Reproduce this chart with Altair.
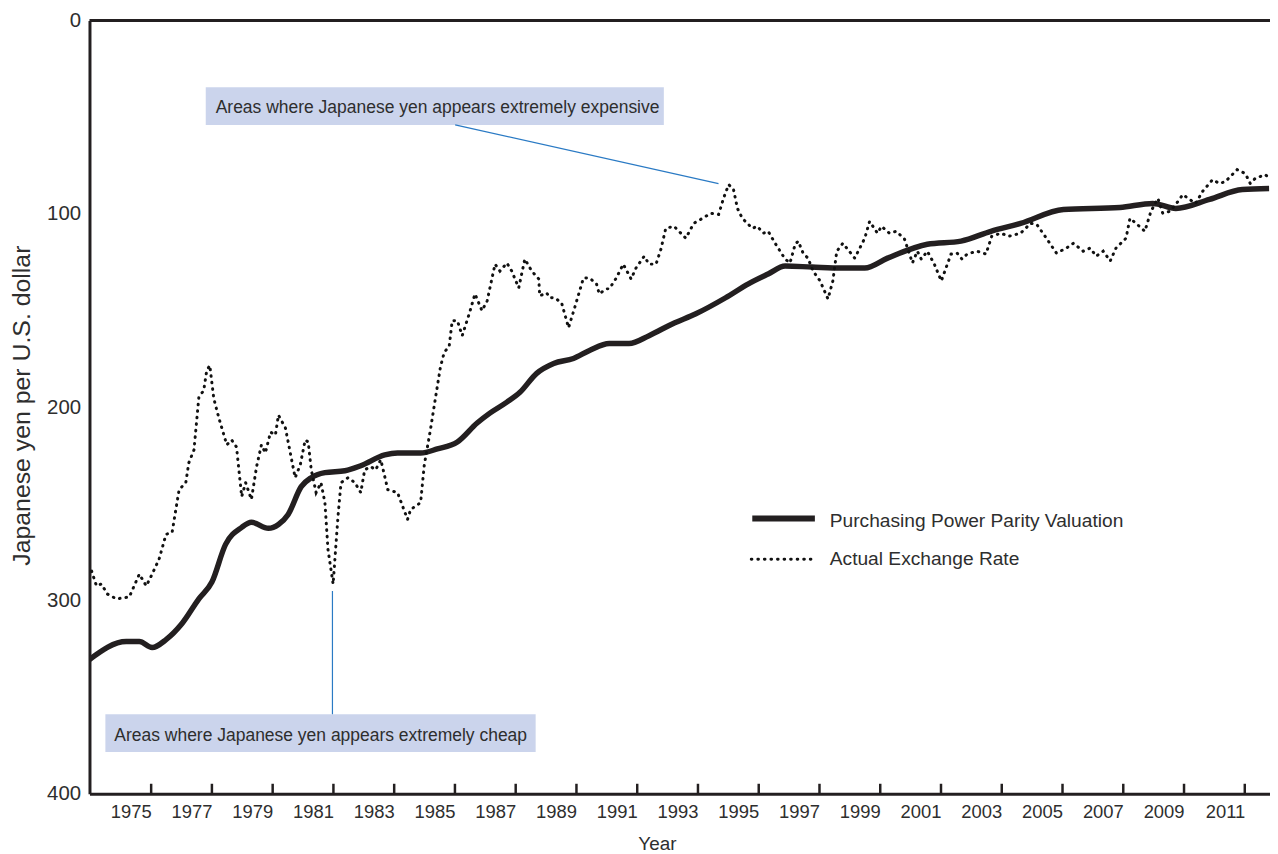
import altair as alt
import pandas as pd

FONT = "Liberation Sans, Arial, Helvetica, sans-serif"
INK = "#231f20"
TXT = "#2e2e2e"
BOX = "#cbd4ec"
LEAD = "#2a7ac4"

# ---------------- data ----------------
ppp_year = [1972.97, 1974.18, 1974.61, 1975.03, 1975.49, 1976.01, 1976.57, 1977.00, 1977.45,
            1977.98, 1978.30, 1978.86, 1979.19, 1979.51, 1979.94, 1980.27, 1980.72, 1981.38,
            1981.90, 1982.69, 1983.11, 1983.87, 1984.42, 1985.08, 1985.73, 1986.15, 1986.71,
            1987.14, 1987.69, 1988.25, 1988.90, 1989.43, 1990.08, 1990.73, 1991.39, 1992.17,
            1992.93, 1993.91, 1994.66, 1995.31, 1995.87, 1996.75, 1997.73, 1998.49, 1999.24,
            2000.55, 2001.66, 2002.64, 2003.62, 2005.03, 2006.89, 2007.97, 2008.73, 2009.84,
            2010.92, 2011.80]
ppp_value = [330.6, 321.3, 321.3, 324.4, 320.3, 312.1, 299.2, 290.5, 271.0,
             262.2, 259.6, 262.7, 260.7, 255.5, 241.1, 236.5, 233.9, 232.9,
             230.3, 224.7, 223.7, 223.7, 221.6, 218.0, 208.2, 203.1, 197.4,
             192.3, 182.5, 177.4, 174.8, 170.7, 167.1, 167.1, 163.0, 156.8,
             151.7, 143.4, 136.2, 131.1, 127.0, 127.5, 128.0, 128.0, 122.9,
             115.7, 114.1, 109.0, 104.9, 97.7, 96.7, 94.6, 97.2, 92.5,
             87.4, 86.9]

act_year = [1973.04, 1973.20, 1973.36, 1973.56, 1973.86, 1974.28, 1974.61, 1974.84, 1975.00,
            1975.26, 1975.49, 1975.69, 1975.92, 1976.14, 1976.24, 1976.41, 1976.57, 1976.73,
            1976.83, 1976.93, 1977.06, 1977.22, 1977.49, 1977.65, 1977.81, 1977.98, 1978.11,
            1978.30, 1978.47, 1978.63, 1978.76, 1978.93, 1979.09, 1979.19, 1979.42, 1979.74,
            1979.91, 1980.07, 1980.17, 1980.27, 1980.43, 1980.59, 1980.72, 1980.82, 1980.99,
            1981.15, 1981.25, 1981.48, 1981.71, 1981.90, 1982.03, 1982.23, 1982.39, 1982.56,
            1982.79, 1983.11, 1983.44, 1983.54, 1983.87, 1983.99, 1984.19, 1984.52, 1984.65,
            1984.81, 1984.91, 1985.08, 1985.24, 1985.47, 1985.66, 1985.89, 1986.06, 1986.32,
            1986.48, 1986.71, 1986.87, 1987.10, 1987.30, 1987.53, 1987.76, 1987.79, 1988.02,
            1988.12, 1988.28, 1988.51, 1988.74, 1988.94, 1989.23, 1989.43, 1989.66, 1989.75,
            1989.98, 1990.08, 1990.31, 1990.54, 1990.80, 1990.96, 1991.23, 1991.39, 1991.62,
            1991.78, 1991.94, 1992.21, 1992.60, 1992.86, 1993.15, 1993.42, 1993.68, 1993.84,
            1994.01, 1994.17, 1994.30, 1994.46, 1994.79, 1994.95, 1995.15, 1995.31, 1995.54,
            1995.87, 1996.03, 1996.20, 1996.30, 1996.46, 1996.62, 1996.79, 1997.02, 1997.28,
            1997.44, 1997.57, 1997.77, 1998.16, 1998.49, 1998.65, 1998.91, 1999.04, 1999.30,
            1999.53, 1999.80, 2000.06, 2000.22, 2000.35, 2000.55, 2000.78, 2001.01, 2001.33,
            2001.53, 2001.69, 2001.86, 2002.18, 2002.48, 2002.67, 2002.97, 2003.23, 2003.62,
            2003.95, 2004.15, 2004.47, 2004.80, 2005.13, 2005.36, 2005.68, 2005.91, 2006.11,
            2006.34, 2006.57, 2006.76, 2007.09, 2007.22, 2007.42, 2007.71, 2007.91, 2008.14,
            2008.30, 2008.53, 2008.73, 2008.96, 2009.18, 2009.38, 2009.61, 2009.94, 2010.17,
            2010.36, 2010.75, 2011.02, 2011.18, 2011.34, 2011.67, 2011.83]
act_value = [284.8, 292.5, 291.5, 296.7, 299.2, 298.2, 286.4, 292.5, 287.4,
             278.7, 265.8, 264.8, 242.7, 239.1, 228.8, 222.1, 194.9, 191.3,
             181.0, 178.4, 195.4, 205.1, 219.5, 217.0, 220.6, 246.3, 239.1,
             247.8, 230.8, 219.5, 223.7, 212.9, 214.4, 204.1, 210.8, 236.5,
             229.8, 217.0, 218.0, 232.4, 244.2, 239.1, 249.4, 273.5, 291.5,
             256.6, 239.1, 236.5, 239.1, 244.2, 232.4, 230.8, 232.4, 227.2,
             242.7, 244.2, 258.1, 253.0, 249.4, 230.0, 212.0, 179.4, 171.5,
             168.6, 155.3, 155.3, 163.0, 151.7, 141.4, 150.1, 145.0, 126.0,
             129.6, 125.4, 129.6, 138.3, 123.4, 129.6, 133.7, 142.4, 140.9,
             143.4, 143.4, 146.0, 158.9, 148.6, 133.2, 133.2, 136.2, 141.4,
             138.8, 138.8, 133.2, 126.0, 133.7, 128.0, 121.9, 126.0, 126.0,
             118.3, 107.5, 106.4, 112.6, 104.9, 102.3, 99.7, 100.3, 92.0,
             84.8, 87.4, 97.2, 102.3, 107.5, 106.4, 110.0, 109.0, 115.2,
             123.4, 125.4, 115.7, 114.1, 120.3, 122.9, 129.6, 134.7, 144.0,
             134.7, 119.3, 115.2, 122.9, 112.6, 103.9, 110.0, 106.4, 110.0,
             109.0, 113.1, 125.4, 119.3, 123.4, 119.3, 126.0, 134.7, 120.8,
             120.3, 123.4, 120.8, 119.3, 120.8, 111.6, 110.0, 111.6, 110.0,
             104.9, 105.4, 112.6, 120.3, 117.7, 115.2, 119.3, 117.7, 121.9,
             119.3, 124.4, 117.7, 112.6, 102.3, 104.9, 109.0, 98.7, 92.0,
             99.7, 98.7, 95.1, 90.0, 92.5, 94.6, 88.4, 82.3, 84.3,
             83.3, 77.1, 79.2, 84.3, 81.7, 79.7, 81.7]

tick_years = list(range(1975, 2012, 2))
y_ticks = [0, 100, 200, 300, 400]

series_names = ["Purchasing Power Parity Valuation", "Actual Exchange Rate"]
note_expensive = "Areas where Japanese yen appears extremely expensive"
note_cheap = "Areas where Japanese yen appears extremely cheap"

# ---------------- chart ----------------
W, H = 1188, 778
X_DOMAIN = [1972.97, 2011.83]

xscale = alt.Scale(domain=X_DOMAIN, nice=False, zero=False)
yscale = alt.Scale(domain=[0, 400], reverse=True, nice=False, zero=False)

ppp_df = pd.DataFrame({"year": ppp_year, "value": ppp_value})
act_df = pd.DataFrame({"year": act_year, "value": act_value})
tick_df = pd.DataFrame({"year": tick_years})
one = pd.DataFrame({"k": [0]})

x_axis = alt.Axis(values=tick_years, format="d", ticks=False, grid=False,
                  domainColor=INK, domainWidth=3,
                  labelAlign="right", labelBaseline="alphabetic", labelPadding=24,
                  labelFont=FONT, labelFontSize=18.5, labelColor=TXT, labelFlush=False,
                  labelOverlap=False,
                  title="Year", titleFont=FONT, titleFontSize=19, titleFontWeight="normal",
                  titleColor=TXT, titleX=571, titleY=56, titleBaseline="alphabetic",
                  titleAlign="center")
y_axis = alt.Axis(values=y_ticks, ticks=False, grid=False,
                  domainColor=INK, domainWidth=3,
                  labelPadding=9, labelFont=FONT, labelFontSize=20.5, labelColor=TXT,
                  labelFlush=False, labelOverlap=False,
                  title="Japanese yen per U.S. dollar", titleFont=FONT,
                  titleFontSize=25, titleFontWeight="normal", titleColor=TXT,
                  titleX=-68, titleY=387, titleAngle=-90, titleBaseline="middle",
                  titleAlign="center")

X = alt.X("year:Q", scale=xscale, axis=x_axis)
Y = alt.Y("value:Q", scale=yscale, axis=y_axis)

ppp_line = alt.Chart(ppp_df).mark_line(
    color=INK, strokeWidth=5.5, clip=True, strokeJoin="round", interpolate="monotone"
).encode(x=X, y=Y)

act_line = alt.Chart(act_df).mark_line(
    color="#111111", strokeWidth=3, strokeDash=[0.6, 6], strokeCap="round", clip=True
).encode(x=X, y=Y)

ticks = alt.Chart(tick_df).mark_rule(color=INK, strokeWidth=2.5).encode(
    x=X,
    y=alt.value(H - 10),
    y2=alt.value(H),
)

top_border = alt.Chart(one).mark_rule(color=INK, strokeWidth=3).encode(
    x=alt.value(0), x2=alt.value(W), y=alt.value(0)
)

# annotation boxes
box_exp = alt.Chart(one).mark_rect(color=BOX).encode(
    x=alt.value(117), x2=alt.value(578), y=alt.value(67), y2=alt.value(105)
)
box_cheap = alt.Chart(one).mark_rect(color=BOX).encode(
    x=alt.value(16), x2=alt.value(449), y=alt.value(698), y2=alt.value(736)
)
lead_exp = alt.Chart(one).mark_rule(color=LEAD, strokeWidth=1.2).encode(
    x=alt.value(368), y=alt.value(105), x2=alt.value(633), y2=alt.value(164)
)
lead_cheap = alt.Chart(one).mark_rule(color=LEAD, strokeWidth=1.2).encode(
    x=alt.value(244.5), y=alt.value(574), y2=alt.value(698)
)
txt_exp = alt.Chart(one).mark_text(
    align="left", baseline="alphabetic", font=FONT, fontSize=17.6, color=TXT
).encode(x=alt.value(127), y=alt.value(93), text=alt.value(note_expensive))
txt_cheap = alt.Chart(one).mark_text(
    align="left", baseline="alphabetic", font=FONT, fontSize=17.6, color=TXT
).encode(x=alt.value(25), y=alt.value(725), text=alt.value(note_cheap))

# legend
leg_solid = alt.Chart(one).mark_rule(color=INK, strokeWidth=6).encode(
    x=alt.value(667), x2=alt.value(730), y=alt.value(501)
)
leg_dot = alt.Chart(one).mark_rule(color="#111111", strokeWidth=3, strokeDash=[0.6, 6],
                                   strokeCap="round").encode(
    x=alt.value(666), x2=alt.value(730), y=alt.value(542)
)
leg_t1 = alt.Chart(one).mark_text(
    align="left", baseline="alphabetic", font=FONT, fontSize=19.3, color=TXT
).encode(x=alt.value(745), y=alt.value(510), text=alt.value(series_names[0]))
leg_t2 = alt.Chart(one).mark_text(
    align="left", baseline="alphabetic", font=FONT, fontSize=19.3, color=TXT
).encode(x=alt.value(745), y=alt.value(548), text=alt.value(series_names[1]))

chart = alt.layer(
    box_exp, box_cheap, lead_exp, lead_cheap, txt_exp, txt_cheap,
    ppp_line, act_line, ticks, top_border,
    leg_solid, leg_dot, leg_t1, leg_t2,
).properties(
    width=W, height=H,
    autosize=alt.AutoSizeParams(type="none"),
    padding={"left": 82, "top": 10, "right": 0, "bottom": 58},
    background="white",
).configure_view(stroke=None)

chart.save("out.html", embed_options={"renderer": "svg", "actions": False})
